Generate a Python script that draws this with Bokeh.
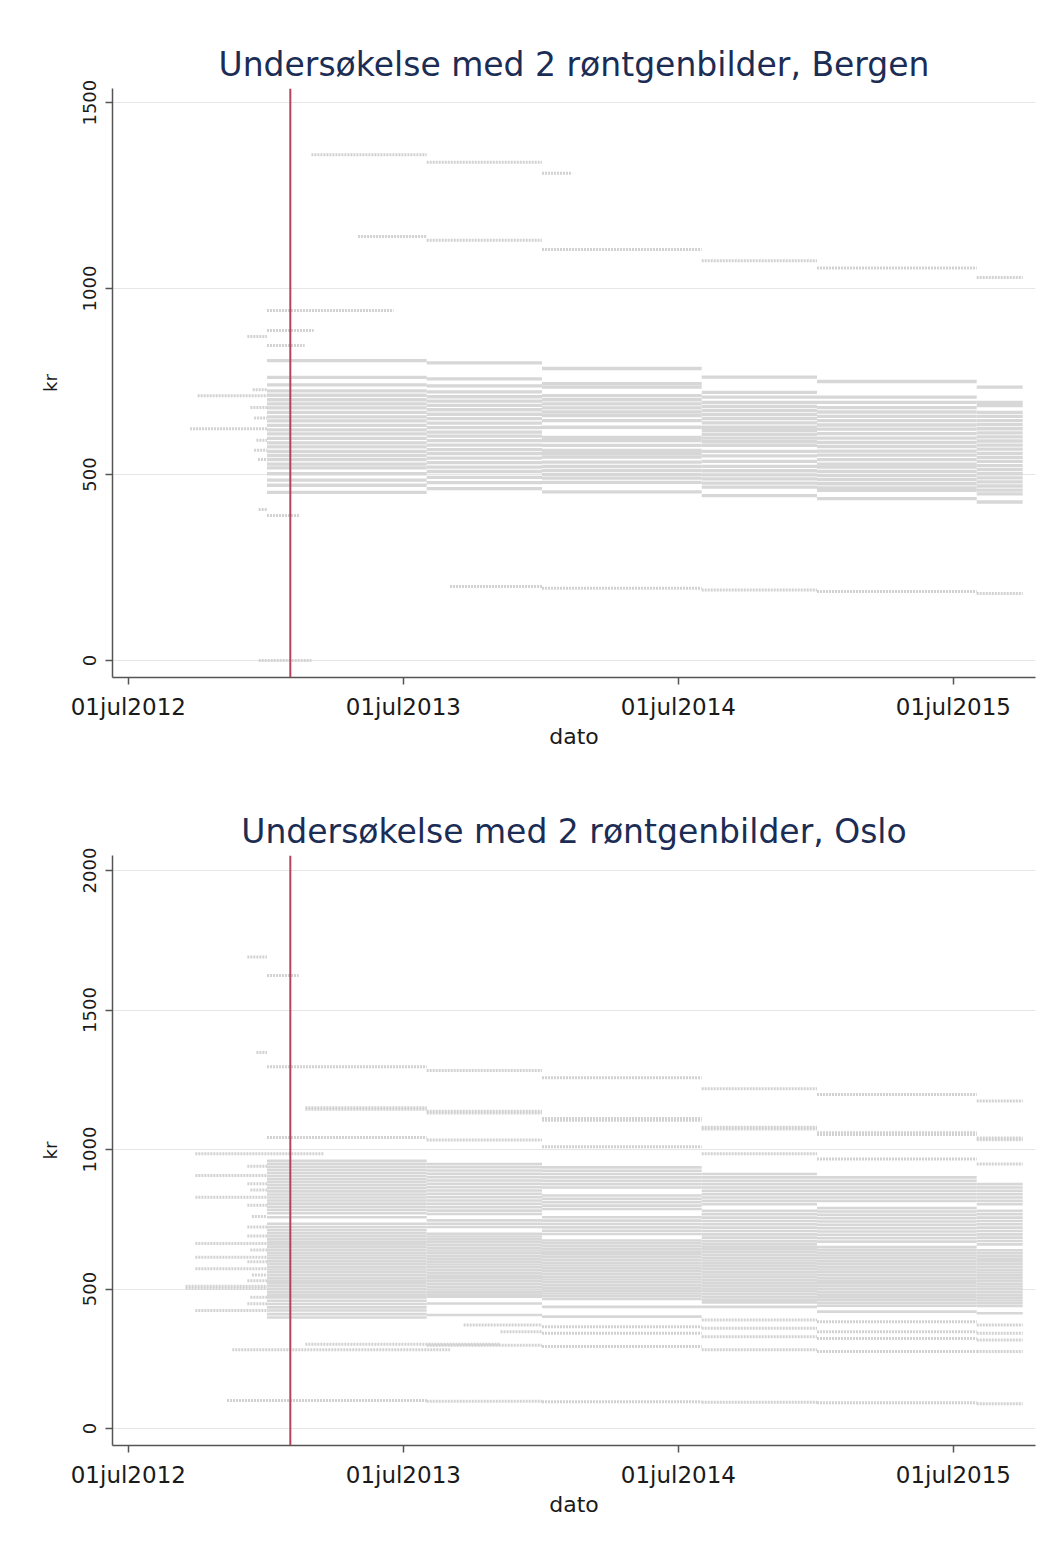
import pandas as pd
from bokeh.plotting import figure
from bokeh.models import Span, FixedTicker, Range1d, ColumnDataSource
from bokeh.layouts import column
from bokeh.embed import file_html
from bokeh.resources import INLINE

# ---------------- data ----------------
PERIOD_BOUNDS = ["2013-01-01", "2013-08-01", "2014-01-01", "2014-08-01",
                 "2015-01-01", "2015-08-01", "2015-10-01"]
REFORM_DATE = "2013-02-01"
X_TICKS = ["2012-07-01", "2013-07-01", "2014-07-01", "2015-07-01"]
X_TICK_LABELS = ["01jul2012", "01jul2013", "01jul2014", "01jul2015"]
BERGEN_Y_TICKS = [0, 500, 1000, 1500]
OSLO_Y_TICKS = [0, 500, 1000, 1500, 2000]
TITLES = ["Undersøkelse med 2 røntgenbilder, Bergen",
          "Undersøkelse med 2 røntgenbilder, Oslo"]

# Bergen: price levels (kr) per tariff period
B_P1 = [806, 761, 741, 725, 713, 701, 690, 679, 667, 655, 644, 632, 620, 609, 597, 585, 574,
        562, 551, 540, 528, 518, 502, 485, 471, 452]
B_P2 = [800, 757, 738, 722, 709, 697, 686, 674, 662, 650, 638, 626, 614, 603, 591, 579, 567,
        556, 544, 532, 520, 508, 492, 478, 462]
B_P3 = [785, 744, 735, 712, 701, 690, 679, 668, 658, 645, 627, 600, 591, 578, 565, 556, 547,
        533, 522, 511, 500, 490, 479, 453]
B_P4 = [762, 721, 708, 694, 683, 672, 661, 650, 639, 627, 618, 608, 598, 588, 578, 562, 550,
        535, 522, 510, 499, 488, 477, 466, 443]
B_P5 = [750, 708, 694, 680, 668, 656, 645, 633, 622, 610, 598, 586, 575, 563, 552, 540, 528,
        520, 508, 497, 486, 475, 464, 457, 435]
B_P6 = [735, 694, 685, 667, 656, 645, 634, 623, 612, 601, 590, 579, 568, 557, 546, 535, 524,
        513, 502, 491, 480, 469, 458, 448, 426]

# Bergen: other observed price spells (start, end, kr)
B_EXTRA = [
    ("2012-10-01", "2013-01-01", 712), ("2012-09-21", "2013-01-01", 623),
    ("2012-12-13", "2013-01-01", 728), ("2012-12-06", "2013-01-01", 871),
    ("2012-12-21", "2013-01-01", 406), ("2012-12-21", "2013-03-01", 0),
    ("2012-12-10", "2013-01-01", 680), ("2012-12-15", "2013-01-01", 652),
    ("2012-12-18", "2013-01-01", 592), ("2012-12-15", "2013-01-01", 565),
    ("2012-12-20", "2013-01-01", 540),
    ("2013-01-01", "2013-06-18", 941), ("2013-01-01", "2013-03-04", 887),
    ("2013-01-01", "2013-02-20", 847), ("2013-01-01", "2013-02-14", 390),
    ("2013-03-01", "2013-08-01", 1360), ("2013-08-01", "2014-01-01", 1340),
    ("2014-01-01", "2014-02-10", 1310),
    ("2013-05-02", "2013-08-01", 1140), ("2013-08-01", "2014-01-01", 1130),
    ("2014-01-01", "2014-08-01", 1105), ("2014-08-01", "2015-01-01", 1075),
    ("2015-01-01", "2015-08-01", 1055), ("2015-08-01", "2015-10-01", 1030),
    ("2013-09-01", "2014-01-01", 199), ("2014-01-01", "2014-08-01", 194),
    ("2014-08-01", "2015-01-01", 189), ("2015-01-01", "2015-08-01", 185),
    ("2015-08-01", "2015-10-01", 180),
]

# Oslo: price levels (kr) per tariff period
O_P1 = [960, 949, 938, 927, 916, 905, 894, 883, 872, 861, 850, 839, 828, 817, 806, 795, 784,
        772, 757, 734, 722, 711, 700, 690, 680, 670, 660, 650, 640, 630, 620, 610, 600, 590,
        580, 570, 560, 550, 540, 530, 520, 510, 500, 490, 480, 470, 458, 446, 434, 423, 410, 398]
O_P2 = [948, 937, 925, 913, 901, 889, 877, 865, 853, 841, 829, 817, 805, 793, 781, 769, 746,
        734, 722, 698, 688, 678, 668, 658, 648, 638, 628, 618, 608, 598, 588, 578, 568, 558,
        548, 538, 528, 518, 508, 498, 488, 480, 472, 448, 407]
O_P3 = [936, 924, 912, 900, 888, 876, 864, 835, 823, 811, 799, 787, 757, 745, 733, 721, 709,
        697, 674, 664, 654, 644, 634, 624, 614, 604, 594, 584, 574, 564, 554, 544, 534, 524,
        514, 504, 494, 484, 474, 464, 436, 401]
O_P4 = [912, 900, 888, 876, 864, 852, 840, 828, 816, 804, 780, 768, 756, 744, 732, 720, 708,
        696, 684, 672, 662, 652, 642, 632, 622, 612, 602, 592, 582, 572, 562, 552, 542, 532,
        522, 512, 502, 492, 482, 472, 462, 452, 436]
O_P5 = [900, 888, 876, 864, 852, 840, 828, 816, 790, 778, 766, 754, 742, 730, 718, 706, 694,
        682, 670, 650, 640, 630, 620, 610, 600, 590, 580, 570, 560, 550, 540, 530, 520, 510,
        500, 490, 480, 470, 460, 450, 440, 419]
O_P6 = [876, 864, 852, 840, 828, 816, 804, 780, 768, 756, 744, 732, 720, 708, 696, 684, 672,
        660, 639, 629, 619, 609, 599, 589, 579, 569, 559, 549, 539, 529, 519, 509, 499, 489,
        479, 469, 459, 449, 439, 413]

# Oslo: other observed price spells (start, end, kr)
O_EXTRA = [
    ("2012-12-06", "2013-01-01", 1690), ("2013-01-01", "2013-02-12", 1624),
    ("2012-12-18", "2013-01-01", 1348),
    ("2013-01-01", "2013-08-01", 1297), ("2013-08-01", "2014-01-01", 1283),
    ("2014-01-01", "2014-08-01", 1257), ("2014-08-01", "2015-01-01", 1218),
    ("2015-01-01", "2015-08-01", 1197), ("2015-08-01", "2015-10-01", 1174),
    ("2013-02-21", "2013-08-01", 1150), ("2013-02-21", "2013-08-01", 1144),
    ("2013-08-01", "2014-01-01", 1137), ("2013-08-01", "2014-01-01", 1131),
    ("2014-01-01", "2014-08-01", 1111), ("2014-01-01", "2014-08-01", 1105),
    ("2014-08-01", "2015-01-01", 1080), ("2014-08-01", "2015-01-01", 1074),
    ("2015-01-01", "2015-08-01", 1060), ("2015-01-01", "2015-08-01", 1054),
    ("2015-08-01", "2015-10-01", 1041), ("2015-08-01", "2015-10-01", 1035),
    ("2013-01-01", "2013-08-01", 1043), ("2013-08-01", "2014-01-01", 1034),
    ("2014-01-01", "2014-08-01", 1010), ("2014-08-01", "2015-01-01", 985),
    ("2015-01-01", "2015-08-01", 966), ("2015-08-01", "2015-10-01", 948),
    ("2012-09-28", "2013-03-17", 985), ("2012-09-28", "2013-01-01", 907),
    ("2012-09-28", "2013-01-01", 829), ("2012-09-28", "2013-01-01", 663),
    ("2012-09-28", "2013-01-01", 614), ("2012-09-28", "2013-01-01", 573),
    ("2012-09-15", "2013-01-01", 510), ("2012-09-15", "2013-01-01", 503),
    ("2012-09-28", "2013-01-01", 423),
    ("2012-12-06", "2013-01-01", 940), ("2012-12-06", "2013-01-01", 877),
    ("2012-12-10", "2013-01-01", 855), ("2012-12-06", "2013-01-01", 800),
    ("2012-12-12", "2013-01-01", 760), ("2012-12-06", "2013-01-01", 722),
    ("2012-12-06", "2013-01-01", 690), ("2012-12-10", "2013-01-01", 640),
    ("2012-12-06", "2013-01-01", 598), ("2012-12-12", "2013-01-01", 550),
    ("2012-12-06", "2013-01-01", 530), ("2012-12-10", "2013-01-01", 470),
    ("2012-12-06", "2013-01-01", 447),
    ("2012-11-16", "2013-09-01", 282), ("2013-02-21", "2013-11-07", 302),
    ("2013-09-19", "2014-01-01", 371), ("2013-11-07", "2014-01-01", 347),
    ("2013-08-01", "2014-01-01", 298),
    ("2014-01-01", "2014-08-01", 365), ("2014-01-01", "2014-08-01", 341),
    ("2014-01-01", "2014-08-01", 294),
    ("2014-08-01", "2015-01-01", 389), ("2014-08-01", "2015-01-01", 359),
    ("2014-08-01", "2015-01-01", 329), ("2014-08-01", "2015-01-01", 282),
    ("2015-01-01", "2015-08-01", 383), ("2015-01-01", "2015-08-01", 347),
    ("2015-01-01", "2015-08-01", 323), ("2015-01-01", "2015-08-01", 276),
    ("2015-08-01", "2015-10-01", 371), ("2015-08-01", "2015-10-01", 341),
    ("2015-08-01", "2015-10-01", 317), ("2015-08-01", "2015-10-01", 276),
    ("2012-11-09", "2013-08-01", 100), ("2013-08-01", "2014-01-01", 98),
    ("2014-01-01", "2014-08-01", 96), ("2014-08-01", "2015-01-01", 94),
    ("2015-01-01", "2015-08-01", 92), ("2015-08-01", "2015-10-01", 89),
]

X_START = "2012-06-10"
X_END = "2015-10-18"
BERGEN_Y_RANGE = (-46, 1538)
OSLO_Y_RANGE = (-61, 2054)


def ms(d):
    return pd.Timestamp(d).value // 10**6


FONT = "DejaVu Sans"
BAND_COLOR = "#d7d7d7"
EXTRA_COLOR = "#d2d2d2"


def make_plot(title, periods, extras, yticks, yrange, height, top, bottom, band_w):
    p = figure(width=1038, height=height, output_backend="svg", toolbar_location=None,
               x_range=Range1d(ms(X_START), ms(X_END)), y_range=Range1d(*yrange),
               min_border_left=112, min_border_right=3, min_border_top=top,
               min_border_bottom=bottom)
    p.title.text = title
    p.title.text_font = FONT
    p.title.text_font_size = "33px"
    p.title.text_font_style = "normal"
    p.title.text_color = "#1c2d55"
    p.title.align = "center"
    p.title.standoff = 10

    # band levels per period
    x0, x1, y = [], [], []
    for i, levels in enumerate(periods):
        for lv in levels:
            x0.append(ms(PERIOD_BOUNDS[i]))
            x1.append(ms(PERIOD_BOUNDS[i + 1]))
            y.append(lv)
    src = ColumnDataSource(dict(x0=x0, x1=x1, y=y))
    p.segment("x0", "y", "x1", "y", source=src, line_color=BAND_COLOR, line_width=band_w)

    ex = ColumnDataSource(dict(x0=[ms(s) for s, e, k in extras],
                               x1=[ms(e) for s, e, k in extras],
                               y=[k for s, e, k in extras]))
    p.segment("x0", "y", "x1", "y", source=ex, line_color=EXTRA_COLOR, line_width=3,
              line_dash="2 1")

    p.add_layout(Span(location=ms(REFORM_DATE), dimension="height",
                      line_color="#b2435f", line_width=2))

    p.outline_line_color = None
    p.xgrid.grid_line_color = None
    p.ygrid.grid_line_color = "#e6e6e6"
    p.ygrid.grid_line_width = 1

    p.xaxis.ticker = FixedTicker(ticks=[ms(d) for d in X_TICKS])
    p.xaxis.major_label_overrides = {ms(d): lab for d, lab in zip(X_TICKS, X_TICK_LABELS)}
    p.yaxis.ticker = FixedTicker(ticks=yticks)
    p.yaxis.major_label_orientation = "vertical"
    p.xaxis.axis_label = "dato"
    p.yaxis.axis_label = "kr"

    for ax in (p.xaxis[0], p.yaxis[0]):
        ax.axis_line_color = "#555555"
        ax.axis_line_width = 1.5
        ax.major_tick_line_color = "#555555"
        ax.major_tick_line_width = 1.5
        ax.major_tick_out = 7
        ax.major_tick_in = 0
        ax.minor_tick_line_color = None
        ax.major_label_text_font = FONT
        ax.major_label_text_color = "#1a1a1a"
        ax.axis_label_text_font = FONT
        ax.axis_label_text_font_style = "normal"
        ax.axis_label_text_color = "#1a1a1a"
    p.xaxis.major_label_text_font_size = "23px"
    p.xaxis.axis_label_text_font_size = "22px"
    p.xaxis.major_label_standoff = 9
    p.xaxis.axis_label_standoff = 1
    p.yaxis.major_label_text_font_size = "18px"
    p.yaxis.axis_label_text_font_size = "18px"
    p.yaxis.major_label_standoff = 9
    p.yaxis.axis_label_standoff = 20
    return p


p1 = make_plot(TITLES[0], [B_P1, B_P2, B_P3, B_P4, B_P5, B_P6], B_EXTRA, BERGEN_Y_TICKS,
               BERGEN_Y_RANGE, 778, 88, 101, 3.3)
p2 = make_plot(TITLES[1], [O_P1, O_P2, O_P3, O_P4, O_P5, O_P6], O_EXTRA, OSLO_Y_TICKS,
               OSLO_Y_RANGE, 756, 77, 89, 2.6)

layout = column(p1, p2)
open("out.html", "w").write(file_html(layout, INLINE))
